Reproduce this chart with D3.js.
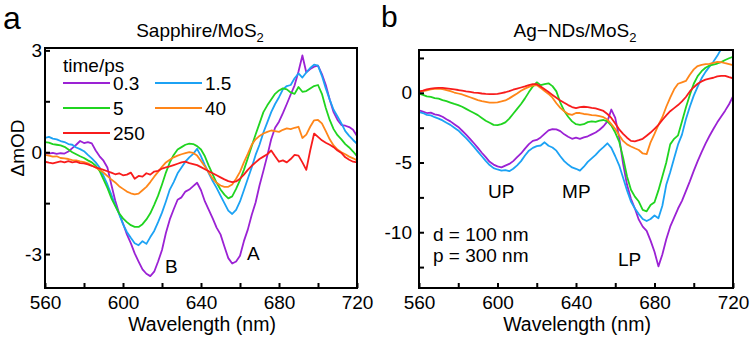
<!DOCTYPE html>
<html><head><meta charset="utf-8">
<script src="https://cdn.jsdelivr.net/npm/d3@7"></script>
<style>
html,body{margin:0;padding:0;background:#fff;}
svg text{font-family:"Liberation Sans",Arial,Helvetica,sans-serif;fill:#000;}
</style></head><body>
<svg id="chart" width="752" height="343"></svg>
<script>
// ---------- data ----------
const wavelength = [
  560,562,564,566,568,570,572,574,576,578,
  580,582,584,586,588,590,592,594,596,598,
  600,602,604,606,608,610,612,614,616,618,
  620,622,624,626,628,630,632,634,636,638,
  640,642,644,646,648,650,652,654,656,658,
  660,662,664,666,668,670,672,674,676,678,
  680,682,684,686,688,690,692,694,696,698,
  700,702,704,706,708,710,712,714,716,718,
  720];

const timeLabels = ["0.3", "1.5", "5", "40", "250"];
const seriesColors = ["#9b22d4", "#1ca2f4", "#20d420", "#ff8619", "#f81c1c"];

// Panel a: Sapphire/MoS2 (ΔmOD)
const a_0p3 = [
  -0.03,-0.04,-0.02,-0.05,-0.03,-0.04,0.02,0.12,0.22,0.33,
  0.27,0.30,0.26,0.05,-0.12,-0.25,-0.45,-0.95,-1.42,-1.80,
  -2.10,-2.42,-2.68,-2.98,-3.22,-3.45,-3.58,-3.65,-3.52,-3.22,
  -2.88,-2.38,-1.98,-1.68,-1.40,-1.33,-1.16,-1.10,-1.00,-0.90,
  -1.12,-1.45,-1.70,-1.95,-2.22,-2.42,-2.78,-3.12,-3.28,-3.22,
  -3.05,-2.62,-2.28,-1.85,-1.48,-0.98,-0.55,-0.10,0.38,0.72,
  0.90,1.15,1.42,1.70,1.97,2.38,2.85,2.35,2.45,2.52,
  2.55,2.30,1.98,1.55,1.18,0.95,0.80,0.78,0.74,0.66,
  0.48];
const a_1p5 = [
  0.42,0.45,0.40,0.38,0.33,0.30,0.24,0.22,0.14,0.09,
  0.03,-0.08,-0.18,-0.30,-0.45,-0.70,-0.95,-1.25,-1.55,-1.82,
  -2.12,-2.35,-2.52,-2.68,-2.74,-2.62,-2.70,-2.50,-2.32,-2.06,
  -1.78,-1.45,-1.10,-0.88,-0.62,-0.45,-0.28,-0.15,-0.05,0.10,
  -0.12,-0.38,-0.62,-0.85,-1.05,-1.28,-1.50,-1.72,-1.82,-1.70,
  -1.45,-1.12,-0.78,-0.45,-0.08,0.22,0.58,0.88,1.18,1.42,
  1.62,1.85,1.95,1.98,2.18,2.32,2.20,2.35,2.48,2.58,
  2.55,2.25,1.88,1.55,1.25,1.05,0.85,0.62,0.48,0.36,
  0.25];
const a_5 = [
  0.30,0.28,0.24,0.22,0.20,0.16,0.08,0.00,-0.06,-0.12,
  -0.17,-0.24,-0.30,-0.40,-0.55,-0.80,-1.05,-1.35,-1.58,-1.80,
  -1.95,-2.06,-2.15,-2.20,-2.20,-2.12,-1.98,-1.80,-1.55,-1.28,
  -0.95,-0.60,-0.30,-0.08,0.08,0.15,0.22,0.25,0.24,0.18,
  0.08,-0.12,-0.40,-0.65,-0.90,-1.10,-1.25,-1.36,-1.30,-1.08,
  -0.82,-0.52,-0.18,0.18,0.52,0.85,1.18,1.38,1.55,1.72,
  1.82,1.88,1.85,1.76,1.72,1.92,1.78,1.80,1.88,1.95,
  1.98,1.72,1.30,0.95,0.68,0.50,0.38,0.24,0.14,0.02,
  -0.12];
const a_40 = [
  -0.08,-0.10,-0.13,-0.12,-0.17,-0.18,-0.20,-0.23,-0.24,-0.27,
  -0.29,-0.33,-0.39,-0.45,-0.52,-0.60,-0.70,-0.80,-0.89,-1.00,
  -1.08,-1.16,-1.21,-1.24,-1.22,-1.12,-1.02,-0.88,-0.72,-0.58,
  -0.43,-0.30,-0.22,-0.15,-0.10,-0.06,-0.03,0.00,-0.02,-0.10,
  -0.26,-0.42,-0.60,-0.78,-0.90,-0.98,-1.02,-1.02,-0.95,-0.78,
  -0.58,-0.30,-0.05,0.22,0.38,0.48,0.55,0.60,0.64,0.62,
  0.60,0.66,0.70,0.68,0.72,0.75,0.42,0.52,0.75,0.94,
  0.95,0.85,0.62,0.38,0.20,0.08,0.00,-0.06,-0.13,-0.18,
  -0.24];
const a_250 = [
  -0.28,-0.31,-0.33,-0.30,-0.27,-0.30,-0.26,-0.30,-0.28,-0.32,
  -0.33,-0.36,-0.40,-0.45,-0.48,-0.52,-0.56,-0.60,-0.65,-0.62,
  -0.68,-0.66,-0.60,-0.78,-0.70,-0.72,-0.62,-0.66,-0.57,-0.55,
  -0.48,-0.45,-0.42,-0.38,-0.34,-0.30,-0.28,-0.32,-0.35,-0.38,
  -0.44,-0.50,-0.56,-0.62,-0.68,-0.74,-0.80,-0.85,-0.88,-0.86,
  -0.78,-0.66,-0.52,-0.40,-0.30,-0.20,-0.13,-0.06,0.05,-0.12,
  -0.28,-0.24,-0.30,-0.20,-0.08,-0.10,-0.30,-0.52,0.05,0.55,
  0.45,0.35,0.28,0.22,0.15,0.05,-0.02,-0.15,-0.22,-0.28,
  -0.30];

// Panel b: Ag-NDs/MoS2 (ΔmOD)
const b_0p3 = [
  -1.25,-1.35,-1.45,-1.42,-1.55,-1.60,-1.72,-1.90,-2.05,-2.25,
  -2.45,-2.72,-3.00,-3.30,-3.62,-3.95,-4.30,-4.62,-4.95,-5.15,
  -5.28,-5.35,-5.22,-5.10,-4.90,-4.62,-4.35,-4.00,-3.68,-3.45,
  -3.38,-3.20,-2.95,-2.70,-2.60,-2.62,-2.75,-2.98,-3.15,-3.30,
  -3.22,-3.30,-3.20,-3.12,-2.98,-2.85,-2.65,-2.40,-2.05,-1.20,
  -1.80,-3.20,-5.10,-6.60,-7.60,-8.30,-9.10,-9.60,-9.90,-10.60,
  -11.40,-12.45,-11.60,-10.50,-9.60,-8.95,-8.30,-7.75,-7.05,-6.35,
  -5.60,-4.90,-4.25,-3.65,-3.10,-2.60,-2.12,-1.70,-1.28,-0.82,
  -0.25];
const b_1p5 = [
  -1.38,-1.45,-1.58,-1.62,-1.75,-1.85,-1.98,-2.15,-2.30,-2.50,
  -2.70,-2.98,-3.25,-3.55,-3.88,-4.22,-4.55,-4.88,-5.18,-5.40,
  -5.50,-5.58,-5.55,-5.62,-5.45,-5.20,-4.90,-4.50,-4.15,-3.95,
  -3.82,-3.78,-3.55,-3.80,-3.92,-4.15,-4.55,-4.90,-5.15,-5.35,
  -5.45,-5.58,-5.30,-4.95,-4.70,-4.45,-4.15,-3.90,-3.62,-3.95,
  -4.55,-5.20,-6.10,-7.00,-7.80,-8.30,-8.70,-9.05,-9.20,-9.05,
  -8.80,-9.00,-8.10,-6.60,-5.70,-4.70,-3.70,-3.00,-1.90,-1.00,
  -0.20,0.45,1.04,1.50,1.88,2.22,2.65,3.15,3.55,3.95,
  4.35];
const b_5 = [
  -0.05,-0.15,-0.25,-0.30,-0.38,-0.42,-0.52,-0.60,-0.70,-0.80,
  -0.88,-1.00,-1.15,-1.30,-1.45,-1.60,-1.80,-2.00,-2.15,-2.30,
  -2.32,-2.25,-2.12,-1.85,-1.50,-1.15,-0.80,-0.40,0.05,0.45,
  0.75,0.55,0.62,0.68,0.48,0.10,-0.70,-1.30,-1.72,-2.05,
  -2.25,-2.30,-2.25,-2.10,-2.05,-2.08,-2.00,-1.95,-2.05,-2.35,
  -2.85,-3.50,-4.65,-6.00,-6.95,-7.45,-7.80,-8.40,-8.50,-8.05,
  -7.85,-7.00,-6.00,-5.00,-3.70,-3.30,-3.05,-2.05,-1.05,-0.15,
  0.65,1.20,1.55,1.80,1.95,2.02,2.10,2.20,2.35,2.48,
  2.58];
const b_40 = [
  0.08,0.12,0.18,0.24,0.28,0.30,0.26,0.20,0.12,0.02,
  -0.05,-0.12,-0.22,-0.32,-0.42,-0.52,-0.60,-0.65,-0.70,-0.70,
  -0.68,-0.62,-0.55,-0.40,-0.22,-0.05,0.15,0.30,0.42,0.52,
  0.55,0.35,0.12,-0.08,-0.35,-0.75,-1.08,-1.32,-1.52,-1.58,
  -1.45,-1.45,-1.52,-1.55,-1.60,-1.62,-1.68,-1.75,-1.92,-2.25,
  -2.60,-3.05,-3.45,-3.70,-3.85,-3.98,-4.10,-4.35,-4.40,-3.55,
  -2.95,-2.30,-1.75,-1.00,-0.35,0.25,0.65,0.75,0.85,1.30,
  1.68,1.92,2.00,2.05,2.08,2.15,2.22,2.20,2.12,2.05,
  1.98];
const b_250 = [
  0.10,0.15,0.25,0.30,0.34,0.36,0.35,0.32,0.28,0.24,
  0.20,0.15,0.10,0.06,0.02,0.00,-0.05,-0.08,-0.10,-0.09,
  -0.08,-0.02,0.04,0.12,0.22,0.30,0.38,0.46,0.55,0.62,
  0.62,0.45,0.25,0.05,-0.15,-0.35,-0.55,-0.72,-0.88,-1.02,
  -1.10,-1.02,-1.00,-1.02,-1.08,-1.12,-1.20,-1.30,-1.52,-1.80,
  -2.20,-2.62,-2.95,-3.22,-3.45,-3.48,-3.40,-3.30,-3.08,-2.85,
  -2.58,-2.30,-1.95,-1.62,-1.32,-1.10,-0.88,-0.62,-0.30,0.10,
  0.40,0.65,0.82,0.95,1.02,1.08,1.18,1.22,1.22,1.12,
  1.04];

const xTicks = [560, 600, 640, 680, 720];
const xMinorTicks = [580, 620, 660, 700];
const aYTicks = [-3, 0, 3];
const aYMinorTicks = [-1.5, 1.5];
const bYTicks = [-10, -5, 0];
const bYMinorTicks = [-12.5, -7.5, -2.5, 2.5];

const aAnnotations = [{text: "B", nm: 621.5, v: -3.56}, {text: "A", nm: 663.6, v: -3.18}];
const bAnnotations = [
  {text: "UP", nm: 595.2, v: -7.55}, {text: "MP", nm: 632.9, v: -7.55},
  {text: "LP", nm: 661.4, v: -12.45},
  {text: "d = 100 nm", nm: 567.1, v: -10.63}, {text: "p = 300 nm", nm: 567.1, v: -12.14}
];

// ---------- drawing ----------
const svg = d3.select("#chart");
const BOTTOM = 288;

function drawPanel(cfg) {
  const g = svg.append("g");
  const x = d3.scaleLinear().domain([560, 720]).range([cfg.left, cfg.right]);
  const y = d3.scaleLinear().domain(cfg.yDomain).range([BOTTOM, cfg.top]);

  const clipId = "clip-" + cfg.id;
  svg.append("clipPath").attr("id", clipId).append("rect")
    .attr("x", cfg.left).attr("y", cfg.top)
    .attr("width", cfg.right - cfg.left).attr("height", BOTTOM - cfg.top);

  const line = d3.line().x((d, i) => x(wavelength[i])).y(d => y(d));
  const lines = g.append("g").attr("clip-path", `url(#${clipId})`);
  cfg.series.forEach((s, k) => {
    lines.append("path").datum(s)
      .attr("d", line)
      .attr("fill", "none")
      .attr("stroke", seriesColors[k])
      .attr("stroke-width", 1.8)
      .attr("stroke-linejoin", "round");
  });

  // axes
  const styleAxis = sel => {
    sel.select(".domain").remove();
    sel.selectAll(".tick line").attr("stroke", "#000").attr("stroke-width", 2);
    sel.selectAll(".tick text").attr("font-size", 19).attr("fill", "#000")
      .attr("font-family", '"Liberation Sans",Arial,sans-serif');
  };
  g.append("g").attr("transform", `translate(0,${BOTTOM})`)
    .call(d3.axisBottom(x).tickValues(xTicks).tickSize(-5).tickPadding(8).tickFormat(d => String(d)))
    .call(styleAxis);
  g.append("g").attr("transform", `translate(0,${BOTTOM})`)
    .call(d3.axisBottom(x).tickValues(xMinorTicks).tickSize(-5).tickFormat(""))
    .call(styleAxis);
  g.append("g").attr("transform", `translate(${cfg.left},0)`)
    .call(d3.axisLeft(y).tickValues(cfg.yTicks).tickSize(-5).tickPadding(cfg.yPad).tickFormat(d => String(d)))
    .call(styleAxis);
  g.append("g").attr("transform", `translate(${cfg.left},0)`)
    .call(d3.axisLeft(y).tickValues(cfg.yMinor).tickSize(-5).tickFormat(""))
    .call(styleAxis);

  // frame
  g.append("rect").attr("x", cfg.left).attr("y", cfg.top)
    .attr("width", cfg.right - cfg.left).attr("height", BOTTOM - cfg.top)
    .attr("fill", "none").attr("stroke", "#000").attr("stroke-width", 2);

  // title with subscript
  const t = g.append("text").attr("x", (cfg.left + cfg.right) / 2 - 1).attr("y", 37)
    .attr("text-anchor", "middle").attr("font-size", 19);
  t.append("tspan").text(cfg.title);
  t.append("tspan").attr("font-size", 13).attr("dy", 5).text("2");

  // panel letter
  g.append("text").attr("x", cfg.letterX).attr("y", cfg.letterY)
    .attr("font-size", cfg.letterSize).text(cfg.letter);

  // x-axis title
  g.append("text").attr("x", (cfg.left + cfg.right) / 2 + 1).attr("y", 331)
    .attr("text-anchor", "middle").attr("font-size", 19.5).text("Wavelength (nm)");

  // annotations
  cfg.annotations.forEach(a => {
    g.append("text").attr("x", x(a.nm)).attr("y", y(a.v))
      .attr("font-size", 19).text(a.text);
  });
  return {g, x, y};
}

const pa = drawPanel({
  id: "a", left: 45, right: 357, top: 48, yDomain: [-4, 3.07],
  series: [a_0p3, a_1p5, a_5, a_40, a_250],
  yTicks: aYTicks, yMinor: aYMinorTicks, yPad: 3,
  title: "Sapphire/MoS", letter: "a", letterX: 3, letterY: 29, letterSize: 32,
  annotations: aAnnotations
});
const pb = drawPanel({
  id: "b", left: 419, right: 733, top: 50, yDomain: [-14, 3.07],
  series: [b_0p3, b_1p5, b_5, b_40, b_250],
  yTicks: bYTicks, yMinor: bYMinorTicks, yPad: 7,
  title: "Ag\u2212NDs/MoS", letter: "b", letterX: 381, letterY: 27, letterSize: 30,
  annotations: bAnnotations
});

// y-axis title panel a
svg.append("text").attr("transform", "translate(24,148) rotate(-90)")
  .attr("text-anchor", "middle").attr("font-size", 19).text("\u0394mOD");

// legend (panel a)
const leg = svg.append("g");
leg.append("text").attr("x", 63).attr("y", 72).attr("font-size", 19).text("time/ps");
timeLabels.forEach((lab, i) => {
  const col = i % 2, row = Math.floor(i / 2);
  const lx = 63 + col * 92, ly = 83 + row * 25;
  leg.append("line").attr("x1", lx).attr("x2", lx + 47).attr("y1", ly).attr("y2", ly)
    .attr("stroke", seriesColors[i]).attr("stroke-width", 2);
  leg.append("text").attr("x", lx + 50).attr("y", ly + 6.5).attr("font-size", 19).text(lab);
});
</script>
</body></html>
